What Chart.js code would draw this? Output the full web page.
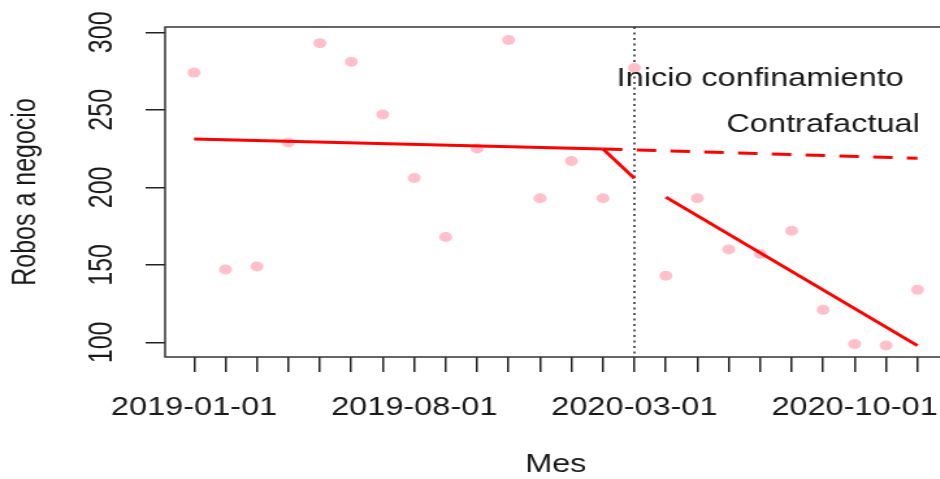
<!DOCTYPE html>
<html lang="es">
<head>
<meta charset="utf-8">
<title>Robos a negocio por mes</title>
<script src="https://cdn.jsdelivr.net/npm/chart.js@4.4.1/dist/chart.umd.min.js"></script>
<style>
  html, body { margin: 0; padding: 0; background: #fff; overflow: hidden; }
  #wrap { width: 940px; height: 479px; overflow: hidden; }
  /* la figura original esta estirada en horizontal */
  #grafico { display: block; transform: scaleX(1.3); transform-origin: 0 0; }
</style>
</head>
<body>
<div id="wrap"><canvas id="grafico" width="740" height="479"></canvas></div>
<script>
// DATOS
const meses = ['2019-01-01', '2019-02-01', '2019-03-01', '2019-04-01', '2019-05-01', '2019-06-01',
               '2019-07-01', '2019-08-01', '2019-09-01', '2019-10-01', '2019-11-01', '2019-12-01',
               '2020-01-01', '2020-02-01', '2020-03-01', '2020-04-01', '2020-05-01', '2020-06-01',
               '2020-07-01', '2020-08-01', '2020-09-01', '2020-10-01', '2020-11-01', '2020-12-01'];
const robos = [274, 147, 149, 229, 293, 281, 247, 206, 168, 225, 295, 193,
               217, 193, 277, 143, 193, 160, 157, 172, 121, 99, 98, 134];
const etiquetasX = ['2019-01-01', '2019-08-01', '2020-03-01', '2020-10-01'];
const ticksY = [100, 150, 200, 250, 300];

// tendencias ajustadas: [mes inicial, mes final] y sus valores
const preMes = ['2019-01-01', '2020-02-01'];    const preValor = [231.2, 224.8];
const caidaMes = ['2020-02-01', '2020-03-01'];  const caidaValor = [224.8, 205.8];
const contraMes = ['2020-02-01', '2020-12-01']; const contraValor = [224.8, 218.7];
const postMes = ['2020-04-01', '2020-12-01'];   const postValor = [193.7, 97.9];

const inicioConfinamiento = '2020-03-01';
const notas = [
    { texto: 'Inicio confinamiento', mes: '2020-07-01', valor: 270 },
    { texto: 'Contrafactual', mes: '2020-09-01', valor: 240 }
];

const FUENTE = '"Liberation Sans", Arial, Helvetica, sans-serif';
const TINTA = '#1a1a1a';
Chart.defaults.font.family = FUENTE;
Chart.defaults.color = TINTA;

const idx = m => meses.indexOf(m);
const tramo = (ms, vs) => ms.map((m, i) => ({ x: idx(m), y: vs[i] }));

const linea = (datos, guiones) => ({
    data: datos,
    showLine: true,
    borderColor: '#ff0000',
    borderWidth: 3,
    borderDash: guiones || [],
    pointRadius: 0,
    order: 1
});

// MARCO, LINEA PUNTEADA, ETIQUETAS Y Y NOTAS
const decorado = {
    id: 'decorado',
    beforeDatasetsDraw(chart) {
        const { ctx, chartArea: a, scales: { x } } = chart;
        const px = x.getPixelForValue(idx(inicioConfinamiento));
        ctx.save();
        ctx.strokeStyle = '#222';
        ctx.lineWidth = 1.5;
        ctx.setLineDash([2, 3.5]);
        ctx.beginPath();
        ctx.moveTo(px, a.top);
        ctx.lineTo(px, a.bottom);
        ctx.stroke();
        ctx.restore();
    },
    afterDraw(chart) {
        const { ctx, chartArea: a, scales: { x, y } } = chart;
        ctx.save();
        ctx.strokeStyle = '#333';
        ctx.lineWidth = 1.5;
        ctx.strokeRect(a.left, a.top, a.right - a.left, a.bottom - a.top);

        ctx.fillStyle = TINTA;
        ctx.font = '25px ' + FUENTE;
        ctx.textAlign = 'center';
        ctx.textBaseline = 'middle';
        ticksY.forEach(v => {
            ctx.save();
            ctx.translate(79, y.getPixelForValue(v));
            ctx.rotate(-Math.PI / 2);
            ctx.fillText(String(v), 0, 0);
            ctx.restore();
        });
        notas.forEach(n => {
            ctx.fillText(n.texto, x.getPixelForValue(idx(n.mes)), y.getPixelForValue(n.valor));
        });
        ctx.restore();
    }
};

new Chart(document.getElementById('grafico'), {
    type: 'scatter',
    data: {
        datasets: [
            {
                data: meses.map((m, i) => ({ x: i, y: robos[i] })),
                pointRadius: 5,
                pointBackgroundColor: '#ffc0cb',
                pointBorderWidth: 0,
                order: 2
            },
            linea(tramo(preMes, preValor)),
            linea(tramo(caidaMes, caidaValor)),
            linea(tramo(contraMes, contraValor), [15, 11]),
            linea(tramo(postMes, postValor))
        ]
    },
    options: {
        responsive: false,
        animation: false,
        events: [],
        layout: { padding: { top: 27, right: 12, left: 0, bottom: 0 } },
        plugins: { legend: { display: false }, tooltip: { enabled: false } },
        scales: {
            x: {
                type: 'linear',
                min: -0.92,
                max: meses.length - 1 + 0.92,
                afterBuildTicks: s => { s.ticks = meses.map((m, i) => ({ value: i })); },
                afterFit: s => { s.height = 122; },
                border: { display: false },
                grid: { drawOnChartArea: false, drawTicks: true, tickLength: 15, color: '#222', lineWidth: 1.5 },
                ticks: {
                    autoSkip: false,
                    maxRotation: 0,
                    minRotation: 0,
                    padding: 21,
                    font: { size: 25 },
                    color: TINTA,
                    callback: v => etiquetasX.includes(meses[v]) ? meses[v] : ''
                },
                title: { display: true, text: 'Mes', font: { size: 25, lineHeight: 1 }, padding: { top: 0, bottom: 1.5 }, color: TINTA }
            },
            y: {
                min: 90.6,
                max: 303.4,
                afterBuildTicks: s => { s.ticks = ticksY.map(v => ({ value: v })); },
                afterFit: s => { s.width = 127; },
                border: { display: false },
                grid: { drawOnChartArea: false, drawTicks: true, tickLength: 15, color: '#222', lineWidth: 1.5 },
                ticks: { display: false },
                title: { display: true, text: 'Robos a negocio', font: { size: 25 }, padding: { top: 5, bottom: 0 }, color: TINTA }
            }
        }
    },
    plugins: [decorado]
});
</script>
</body>
</html>
